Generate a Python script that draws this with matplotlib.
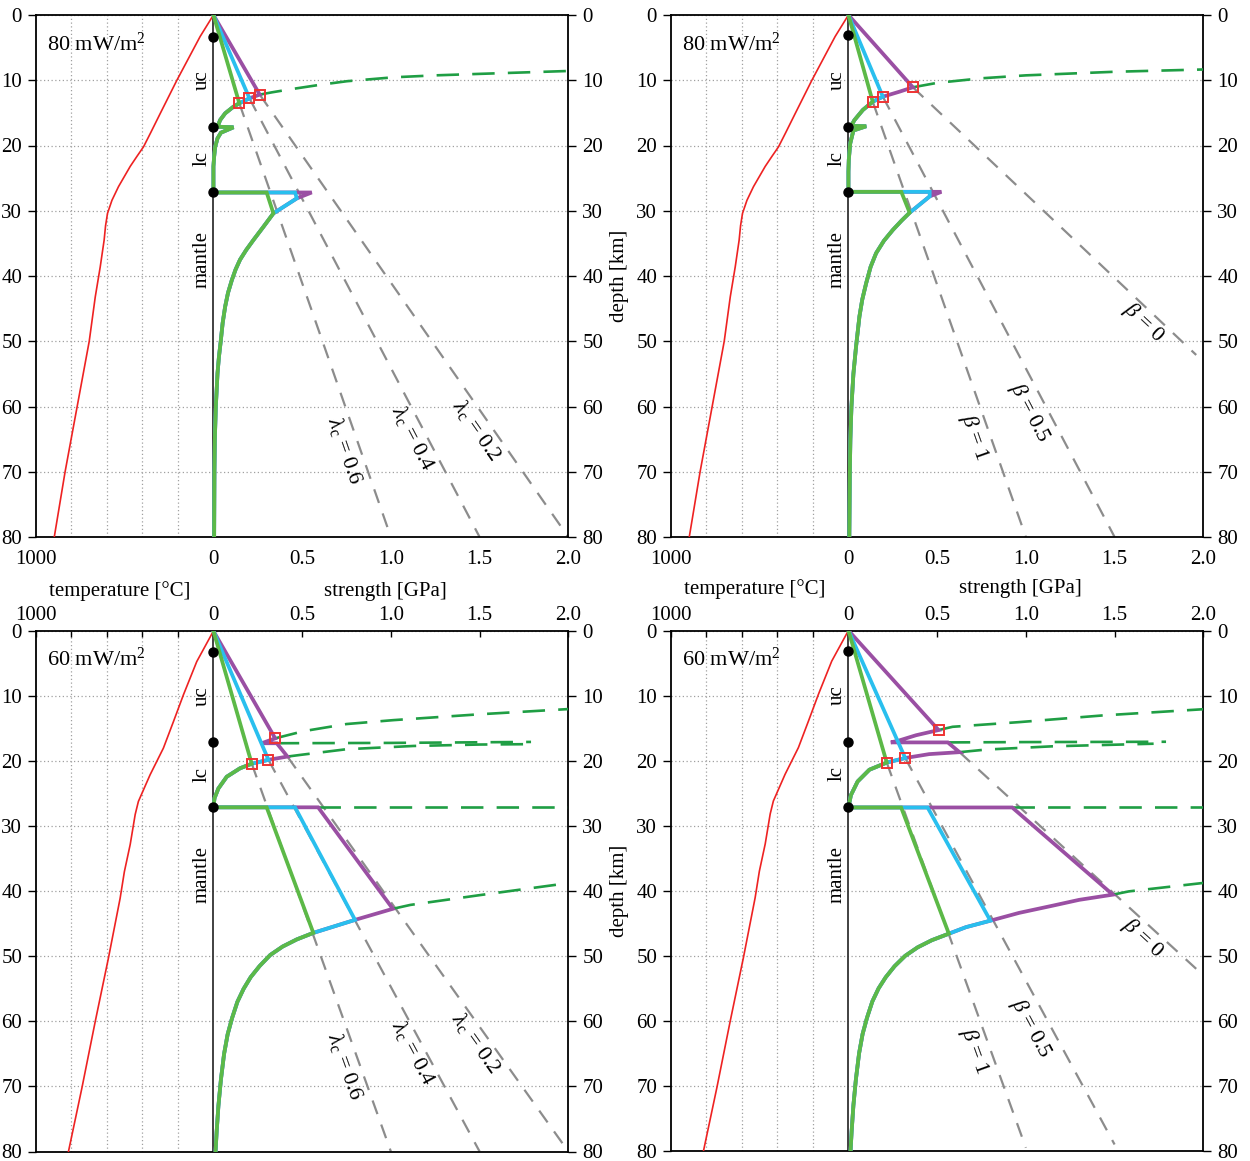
import math
import matplotlib
matplotlib.use("Agg")
import matplotlib.pyplot as plt

plt.rcParams["font.family"] = "Liberation Serif"
plt.rcParams["mathtext.fontset"] = "custom"
plt.rcParams["mathtext.rm"] = "Liberation Serif"
plt.rcParams["mathtext.it"] = "Liberation Serif:italic"
plt.rcParams["font.size"] = 15

PURPLE = "#9a4fa3"
CYAN = "#29bfee"
GREEN = "#5cb947"
RED = "#ee2222"
BDT_GREEN = "#1f9e44"
GREY = "#8c8c8c"

# geotherms: depth [km] / temperature [C]
GEO80_D = [0, 3.3, 10, 15.1, 18.0, 20.2, 21.7, 23.2, 26.3, 28.4, 30.4, 32.3, 34.5, 38.6, 43.2, 50, 60, 70, 80]
GEO80_T = [0, 75, 206, 300, 353, 394, 432, 469, 535, 572, 597, 608, 616, 638, 666, 700, 768, 836, 897]
GEO60_D = [0, 4.7, 9.8, 13.9, 18.0, 22.1, 26.2, 28.2, 32.8, 37.0, 41.1, 50.3, 60.0, 70.2, 80]
GEO60_T = [0, 94, 169, 225, 282, 357, 423, 441, 469, 502, 526, 592, 666, 741, 817]

# --- 80 mW/m2, pore fluid factor (top left)
TL_SQ_S = [0.261, 0.203, 0.146]          # brittle-ductile transition, purple/cyan/green
TL_SQ_D = [12.2, 12.77, 13.53]
TL_BEND_S = []
TL_BEND_D = []
TL_LC_S = [0.113, 0.066, 0.038, 0.023, 0.113, 0.042, 0.023, 0.010, 0.004, 0.0, 0.0]
TL_LC_D = [14.05, 15.07, 16.09, 17.12, 17.21, 18.04, 18.9, 20.2, 21.7, 23.2, 27.2]
TL_MOHO_D = 27.2
TL_MOHO_S = [0.554, 0.46, 0.30]
TL_MANTLE_S = [0.554, 0.47, 0.338, 0.282, 0.225, 0.185, 0.150, 0.125, 0.104, 0.082, 0.066,
               0.052, 0.042, 0.031, 0.023, 0.0135, 0.008, 0.0056, 0.004]
TL_MANTLE_D = [27.2, 28.1, 30.4, 32.45, 34.5, 36.0, 37.5, 39.0, 40.6, 42.6, 44.7,
               47.2, 49.8, 52.4, 54.9, 60.0, 65.0, 70.0, 80.0]
TL_JOIN = [0, 1, 2]
TL_REF_S0 = [0.146, 0.203, 0.261]
TL_REF_D0 = [13.53, 12.77, 12.2]
TL_REF_S1 = [1.0, 1.5, 2.0]
TL_REF_D1 = [80, 80, 80]
TL_REF_LABELS = [r"$\lambda_{\mathrm{c}}$ = 0.6", r"$\lambda_{\mathrm{c}}$ = 0.4", r"$\lambda_{\mathrm{c}}$ = 0.2"]
TL_REF_LAB_S = [0.742, 1.127, 1.484]
TL_REF_LAB_D = [66.8, 64.9, 63.6]
TL_BDT = [([0.261, 0.33, 0.432, 0.6, 0.752, 1.014, 1.25, 1.503, 2.0],
           [12.2, 11.85, 11.39, 10.7, 10.15, 9.55, 9.25, 9.02, 8.58])]
TL_DOTS = [3.3, 17.2, 27.2]

# --- 80 mW/m2, beta (top right)
TR_SQ_S = [0.363, 0.194, 0.137]
TR_SQ_D = [11.08, 12.52, 13.29]
TR_BEND_S = [0.288]
TR_BEND_D = [11.75]
TR_LC_S = [0.081, 0.034, 0.015, 0.10, 0.028, 0.010, 0.002, 0.0, 0.0]
TR_LC_D = [14.56, 16.1, 17.0, 17.05, 17.7, 19.7, 22.2, 24.0, 27.1]
TR_MOHO_D = 27.1
TR_MOHO_S = [0.524, 0.458, 0.298]
TR_MANTLE_S = [0.524, 0.458, 0.345, 0.30, 0.25, 0.20, 0.156, 0.125, 0.10, 0.078, 0.062,
               0.043, 0.028, 0.017, 0.011, 0.008, 0.005]
TR_MANTLE_D = [27.1, 27.8, 30.3, 31.5, 32.95, 34.6, 36.5, 38.6, 41.1, 43.6, 46.2,
               50.8, 55.0, 60.0, 65.0, 70.0, 80.0]
TR_JOIN = [0, 1, 2]
TR_REF_S0 = [0.137, 0.194, 0.363]
TR_REF_D0 = [13.29, 12.52, 11.08]
TR_REF_S1 = [1.0, 1.5, 1.96]
TR_REF_D1 = [80, 80, 52.1]
TR_REF_LABELS = [r"$\beta$ = 1", r"$\beta$ = 0.5", r"$\beta$ = 0"]
TR_REF_LAB_S = [0.71, 1.02, 1.66]
TR_REF_LAB_D = [64.7, 61.0, 47.2]
TR_BDT = [([0.363, 0.5, 0.75, 1.0, 1.5, 2.0],
           [11.08, 10.4, 9.7, 9.25, 8.7, 8.35])]
TR_DOTS = [3.0, 17.2, 27.1]

# --- 60 mW/m2, pore fluid factor (bottom left)
BL_SQ_S = [0.348, 0.31, 0.216]
BL_SQ_D = [16.5, 19.8, 20.4]
BL_BEND_S = [0.272, 0.357, 0.417]
BL_BEND_D = [17.25, 17.25, 19.3]
BL_LC_S = [0.15, 0.075, 0.028, 0.006, 0.0]
BL_LC_D = [21.1, 22.4, 24.2, 25.7, 27.1]
BL_MOHO_D = 27.1
BL_MOHO_S = [0.59, 0.46, 0.30]
BL_MANTLE_S = [1.011, 0.798, 0.563, 0.47, 0.39, 0.32, 0.26, 0.21, 0.17, 0.135, 0.105,
               0.08, 0.06, 0.042, 0.028, 0.018, 0.012]
BL_MANTLE_D = [42.7, 44.4, 46.4, 47.4, 48.5, 49.8, 51.5, 53.2, 55.0, 57.0, 59.5,
               62.0, 65.0, 69.0, 73.0, 77.0, 80.0]
BL_JOIN = [0, 1, 2]
BL_REF_S0 = [0.216, 0.31, 0.417]
BL_REF_D0 = [20.4, 19.8, 19.3]
BL_REF_S1 = [1.0, 1.5, 2.0]
BL_REF_D1 = [80, 80, 80]
BL_REF_LABELS = TL_REF_LABELS
BL_REF_LAB_S = [0.742, 1.125, 1.48]
BL_REF_LAB_D = [66.9, 64.9, 63.4]
BL_BDT = [([0.348, 0.507, 0.75, 1.014, 1.5, 2.0], [16.5, 15.4, 14.3, 13.7, 12.8, 12.0]),
          ([0.357, 1.0, 1.79], [17.25, 17.2, 17.05]),
          ([0.417, 0.488, 0.75, 1.127, 1.5, 1.75], [19.3, 19.05, 18.17, 17.67, 17.45, 17.4]),
          ([0.59, 2.0], [27.1, 27.1]),
          ([1.011, 1.11, 1.5, 2.0], [42.7, 42.1, 40.6, 38.75])]
BL_DOTS = [3.2, 17.1, 27.1]

# --- 60 mW/m2, beta (bottom right)
BR_SQ_S = [0.508, 0.32, 0.216]
BR_SQ_D = [15.3, 19.6, 20.3]
BR_BEND_S = [0.381, 0.286, 0.239, 0.56, 0.626, 0.455]
BR_BEND_D = [16.1, 16.9, 17.2, 17.2, 18.7, 19.0]
BR_LC_S = [0.118, 0.052, 0.014, 0.0]
BR_LC_D = [21.4, 23.2, 25.3, 27.2]
BR_MOHO_D = 27.2
BR_MOHO_S = [0.923, 0.446, 0.297]
BR_MANTLE_S = [1.49, 1.30, 1.15, 0.962, 0.80, 0.662, 0.566, 0.47, 0.39, 0.32, 0.26, 0.21,
               0.17, 0.135, 0.105, 0.08, 0.06, 0.042, 0.028, 0.018, 0.012]
BR_MANTLE_D = [40.6, 41.4, 42.3, 43.4, 44.6, 45.6, 46.6, 47.6, 48.7, 50.0, 51.6, 53.3,
               55.0, 57.0, 59.5, 62.0, 65.0, 69.0, 73.0, 77.0, 80.0]
BR_JOIN = [0, 4, 6]
BR_REF_S0 = [0.216, 0.32, 0.626]
BR_REF_D0 = [20.3, 19.6, 18.7]
BR_REF_S1 = [1.0, 1.5, 1.96]
BR_REF_D1 = [79.5, 79.0, 52.0]
BR_REF_LABELS = TR_REF_LABELS
BR_REF_LAB_S = [0.71, 1.03, 1.66]
BR_REF_LAB_D = [64.7, 61.2, 47.3]
BR_BDT = [([0.508, 0.587, 0.963, 1.43, 2.0], [15.3, 14.8, 14.08, 13.06, 12.1]),
          ([0.56, 1.0, 1.79], [17.2, 17.15, 17.1]),
          ([0.626, 0.776, 1.15, 1.72], [18.7, 18.3, 17.8, 17.4]),
          ([0.923, 2.0], [27.2, 27.2]),
          ([1.49, 1.58, 2.0], [40.6, 40.1, 38.8])]
BR_DOTS = [3.1, 17.1, 27.2]

XTICKS = [-1, 0, 0.5, 1.0, 1.5, 2.0]
XTICKLABELS = ["1000", "0", "0.5", "1.0", "1.5", "2.0"]
XGRID = [-0.8, -0.6, -0.4, -0.2, 0.5, 1.0, 1.5]
YTICKS = [0, 10, 20, 30, 40, 50, 60, 70, 80]
LAYERS = ["uc", "lc", "mantle"]
LAYER_D = [10.0, 22.0, 37.5]

W, H = 1250, 1161
fig = plt.figure(figsize=(W / 100, H / 100), dpi=100)


def add_axes_px(x0, y0, x1, y1):
    return fig.add_axes([x0 / W, 1 - y1 / H, (x1 - x0) / W, (y1 - y0) / H])


def strength_curves(sq_s, sq_d, bend_s, bend_d, lc_s, lc_d, moho_d, moho_s,
                    mantle_s, mantle_d, join):
    lc_s = [sq_s[2]] + lc_s
    lc_d = [sq_d[2]] + lc_d
    tops = [([0, sq_s[0]] + bend_s + [sq_s[1]], [0, sq_d[0]] + bend_d + [sq_d[1]]),
            ([0, sq_s[1]], [0, sq_d[1]]),
            ([0], [0])]
    out = []
    for k, (ts, td) in enumerate(tops):
        s = ts + lc_s + [moho_s[k]] + mantle_s[join[k]:]
        d = td + lc_d + [moho_d] + mantle_d[join[k]:]
        out.append((s, d))
    return out


def style_axes(ax, top_row, depth_label):
    ax.set_xlim(-1, 2)
    ax.set_ylim(80, 0)
    ax.set_xticks(XTICKS)
    ax.set_xticklabels(XTICKLABELS)
    ax.set_xticks(XGRID, minor=True)
    ax.set_yticks(YTICKS)
    ax.grid(which="minor", axis="x", color="#a0a0a0", lw=0.9, ls=(0, (1, 2)))
    ax.grid(which="major", axis="y", color="#a0a0a0", lw=0.9, ls=(0, (1, 2)))
    ax.tick_params(axis="y", which="major", direction="out", length=6, width=1,
                   left=True, right=True, labelleft=True, labelright=True, pad=4)
    if top_row:
        ax.tick_params(axis="x", which="both", bottom=False, top=False,
                       labelbottom=True, labeltop=False, length=0, pad=9)
    else:
        ax.tick_params(axis="x", which="both", bottom=False, top=True,
                       labelbottom=False, labeltop=True, direction="in",
                       length=4, width=1, pad=4)
    for sp in ax.spines.values():
        sp.set_linewidth(1.3)
    if depth_label:
        ax.set_ylabel("depth [km]", labelpad=5)


def draw_panel(ax, flux, geo_d, geo_t, sq_s, sq_d, bend_s, bend_d, lc_s, lc_d,
               moho_d, moho_s, mantle_s, mantle_d, join,
               ref_s0, ref_d0, ref_s1, ref_d1, ref_labels, ref_lab_s, ref_lab_d,
               bdt_lines, dots):
    ax.axvline(0, color="#333333", lw=1.3, zorder=2)
    ax.plot([-t / 1000 for t in geo_t], geo_d, color=RED, lw=1.2, zorder=3)

    for s0, d0, s1, d1 in zip(ref_s0, ref_d0, ref_s1, ref_d1):
        ax.plot([s0, s1], [d0, d1], color=GREY, lw=1.6, dashes=(6.5, 5), zorder=2.5)
    for bs, bd in bdt_lines:
        ax.plot(bs, bd, color=BDT_GREEN, lw=1.9, dashes=(8.5, 5), zorder=3)

    curves = strength_curves(sq_s, sq_d, bend_s, bend_d, lc_s, lc_d, moho_d,
                             moho_s, mantle_s, mantle_d, join)
    for (s, d), col, z in zip(curves, [PURPLE, CYAN, GREEN], [4, 5, 6]):
        ax.plot(s, d, color=col, lw=2.7, zorder=z, solid_joinstyle="miter")

    ax.plot(sq_s, sq_d, ls="none", marker="s", ms=7.5, mfc="none", mec="#ee3333",
            mew=1.4, zorder=7)
    ax.plot([0] * len(dots), dots, ls="none", marker="o", ms=6.5, color="black", zorder=8)

    for name, d in zip(LAYERS, LAYER_D):
        ax.text(-0.065, d, name, rotation=90, ha="center", va="center", fontsize=15)
    ax.text(-0.94, 4.4, flux + r" mW/m$^{2}$", ha="left", va="center", fontsize=16)

    for s0, d0, s1, d1, lab, ls_, ld_ in zip(ref_s0, ref_d0, ref_s1, ref_d1,
                                             ref_labels, ref_lab_s, ref_lab_d):
        p0 = ax.transData.transform((s0, d0))
        p1 = ax.transData.transform((s1, d1))
        ang = math.degrees(math.atan2(p1[1] - p0[1], p1[0] - p0[0]))
        ax.text(ls_, ld_, lab, rotation=ang, rotation_mode="anchor",
                ha="center", va="center", fontsize=16, zorder=9)


ax_tl = add_axes_px(36, 15, 568.3, 537)
ax_tr = add_axes_px(671, 15, 1203.3, 537)
ax_bl = add_axes_px(36, 631, 568.3, 1151.5)
ax_br = add_axes_px(671, 630.5, 1203.3, 1151)

style_axes(ax_tl, True, False)
style_axes(ax_tr, True, True)
style_axes(ax_bl, False, False)
style_axes(ax_br, False, True)

draw_panel(ax_tl, "80", GEO80_D, GEO80_T, TL_SQ_S, TL_SQ_D, TL_BEND_S, TL_BEND_D,
           TL_LC_S, TL_LC_D, TL_MOHO_D, TL_MOHO_S, TL_MANTLE_S, TL_MANTLE_D, TL_JOIN,
           TL_REF_S0, TL_REF_D0, TL_REF_S1, TL_REF_D1, TL_REF_LABELS,
           TL_REF_LAB_S, TL_REF_LAB_D, TL_BDT, TL_DOTS)
draw_panel(ax_tr, "80", GEO80_D, GEO80_T, TR_SQ_S, TR_SQ_D, TR_BEND_S, TR_BEND_D,
           TR_LC_S, TR_LC_D, TR_MOHO_D, TR_MOHO_S, TR_MANTLE_S, TR_MANTLE_D, TR_JOIN,
           TR_REF_S0, TR_REF_D0, TR_REF_S1, TR_REF_D1, TR_REF_LABELS,
           TR_REF_LAB_S, TR_REF_LAB_D, TR_BDT, TR_DOTS)
draw_panel(ax_bl, "60", GEO60_D, GEO60_T, BL_SQ_S, BL_SQ_D, BL_BEND_S, BL_BEND_D,
           BL_LC_S, BL_LC_D, BL_MOHO_D, BL_MOHO_S, BL_MANTLE_S, BL_MANTLE_D, BL_JOIN,
           BL_REF_S0, BL_REF_D0, BL_REF_S1, BL_REF_D1, BL_REF_LABELS,
           BL_REF_LAB_S, BL_REF_LAB_D, BL_BDT, BL_DOTS)
draw_panel(ax_br, "60", GEO60_D, GEO60_T, BR_SQ_S, BR_SQ_D, BR_BEND_S, BR_BEND_D,
           BR_LC_S, BR_LC_D, BR_MOHO_D, BR_MOHO_S, BR_MANTLE_S, BR_MANTLE_D, BR_JOIN,
           BR_REF_S0, BR_REF_D0, BR_REF_S1, BR_REF_D1, BR_REF_LABELS,
           BR_REF_LAB_S, BR_REF_LAB_D, BR_BDT, BR_DOTS)

# shared axis titles between the two rows
fig.text(120 / W, 1 - 591 / H, "temperature [°C]", ha="center", va="center", fontsize=15)
fig.text(385 / W, 1 - 591 / H, "strength [GPa]", ha="center", va="center", fontsize=15)
fig.text(755 / W, 1 - 589 / H, "temperature [°C]", ha="center", va="center", fontsize=15)
fig.text(1020 / W, 1 - 588 / H, "strength [GPa]", ha="center", va="center", fontsize=15)

fig.savefig("out.png", dpi=100)
